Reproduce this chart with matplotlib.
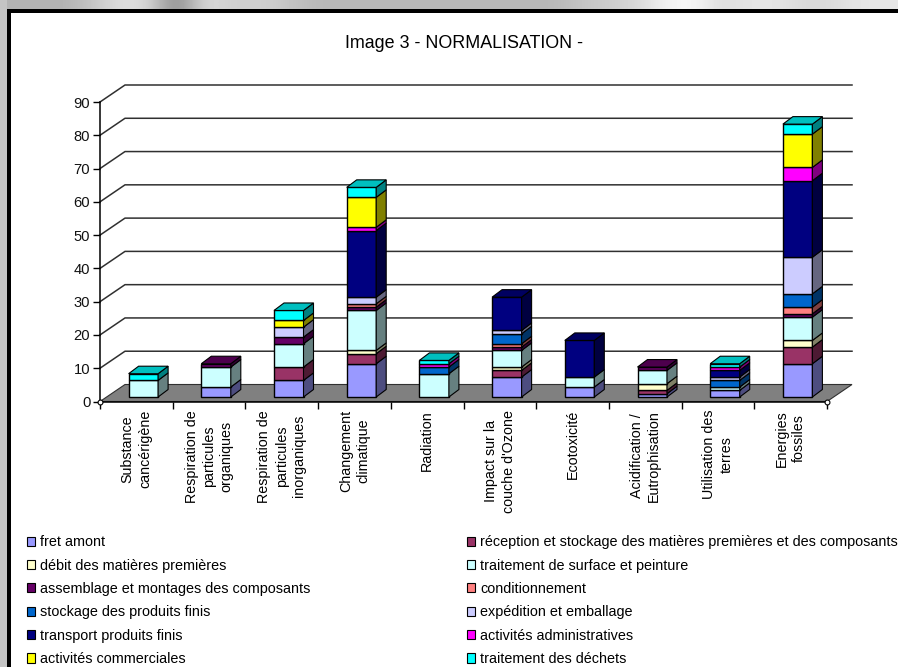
import numpy as np
import matplotlib
matplotlib.use('Agg')
import matplotlib.pyplot as plt
from matplotlib.patches import Polygon, Patch, Rectangle
from matplotlib.colors import to_rgb

plt.rcParams['font.family'] = ['Liberation Sans', 'DejaVu Sans']

categories = ['Substance\ncancérigène', 'Respiration de\nparticules\norganiques',
              'Respiration de\nparticules\ninorganiques', 'Changement\nclimatique', 'Radiation',
              "Impact sur la\ncouche d'Ozone", 'Ecotoxicité', 'Acidification /\nEutrophisation',
              'Utilisation des\nterres', 'Energies\nfossiles']

series_names = ['fret amont', 'réception et stockage des matières premières et des composants',
                'débit des matières premières', 'traitement de surface et peinture',
                'assemblage et montages des composants', 'conditionnement',
                'stockage des produits finis', 'expédition et emballage',
                'transport produits finis', 'activités administratives',
                'activités commerciales', 'traitement des déchets']

colors = ['#9999FF', '#993366', '#FFFFCC', '#CCFFFF', '#660066', '#FF8080',
          '#0066CC', '#CCCCFF', '#000080', '#FF00FF', '#FFFF00', '#00FFFF']

fret = [0, 3, 5, 10, 0, 6, 3, 1, 2, 10]
reception = [0, 0, 4, 3, 0, 2, 0, 1, 0, 5]
debit = [0, 0, 0, 1, 0, 1, 0, 2, 0, 2]
surface = [5, 6, 7, 12, 7, 5, 3, 4, 1, 7]
assemblage = [0, 1, 2, 1, 0, 1, 0, 1, 0, 1]
conditionnement = [0, 0, 0, 1, 0, 1, 0, 0, 0, 2]
stockage = [0, 0, 0, 0, 2, 3, 0, 0, 2, 4]
expedition = [0, 0, 3, 2, 0, 1, 0, 0, 1, 11]
transport = [0, 0, 0, 20, 0, 10, 11, 0, 2, 23]
administratives = [0, 0, 0, 1, 1, 0, 0, 0, 1, 4]
commerciales = [0, 0, 2, 9, 0, 0, 0, 0, 0, 10]
dechets = [2, 0, 3, 3, 1, 0, 0, 0, 1, 3]

all_series = [fret, reception, debit, surface, assemblage, conditionnement,
              stockage, expedition, transport, administratives, commerciales, dechets]

# grey levels of the blurred picture behind the frame, left to right
top_band = [0.70, 0.70, 0.70, 0.78, 0.88, 0.85, 0.50, 0.88, 0.80, 0.82, 0.78,
            0.72, 0.72, 0.72, 0.72, 0.72, 0.72, 0.72, 0.72, 0.72, 0.72,
            0.78, 0.80, 0.85, 0.95, 0.98, 0.85, 0.90, 0.90, 0.85, 0.85, 0.90, 0.90]

W, H = 898, 667
fig = plt.figure(figsize=(W / 100, H / 100), dpi=100, facecolor='white')

# backdrop and black frame
bg = fig.add_axes([0, 0, 1, 1], zorder=0)
bg.imshow([top_band], extent=(0, W, 10, 0), cmap='gray', vmin=0, vmax=1, aspect='auto', interpolation='bicubic')
bg.axis('off')
bg.add_patch(Rectangle((0, 0), 7, H, fc='#c4c4c4', ec='none'))
bg.add_patch(Rectangle((7, 9), W, H, fc='white', ec='none'))
bg.add_patch(Rectangle((7, 9), 3.5, H, fc='black', ec='none'))
bg.add_patch(Rectangle((7, 9), W, 4, fc='black', ec='none'))
bg.set_xlim(0, W)
bg.set_ylim(H, 0)

ax = fig.add_axes([100 / W, 1 - 401.5 / H, 727 / W, 299.5 / H], zorder=1)
ax.patch.set_alpha(0)
ax.set_xlim(0, 10)
ax.set_ylim(0, 90)

# one pixel in data units
px = 10 / 727
py = 90 / 299.5

# floor and back wall
ax.add_patch(Polygon([(0, 0), (25 * px, 17 * py), (752 * px, 17 * py), (10, 0)], closed=True,
                     fc='#808080', ec='#303030', lw=0.8, clip_on=False, zorder=1))
for v in range(10, 100, 10):
    ax.plot([0, 25 * px, 752 * px], [v, v + 17 * py, v + 17 * py], color='#303030', lw=1.1,
            clip_on=False, zorder=1)

# 3d stacked bars
bar_w = 29.5 * px
dep_x = 10 * px
dep_y = 7.5 * py
base = 4.5 * py
shift = 7 * px
values = np.array(all_series, dtype=float)
for i in range(len(categories)):
    x0 = i + 0.5 + shift - bar_w / 2
    x1 = x0 + bar_w
    y = base
    last = None
    for s in range(len(all_series)):
        v = values[s, i]
        if v == 0:
            continue
        c = np.array(to_rgb(colors[s]))
        ax.add_patch(Polygon([(x0, y), (x1, y), (x1, y + v), (x0, y + v)], closed=True, fc=c, ec='black',
                             lw=1.0, clip_on=False, zorder=3))
        ax.add_patch(Polygon([(x1, y), (x1 + dep_x, y + dep_y), (x1 + dep_x, y + v + dep_y), (x1, y + v)],
                             closed=True, fc=c * 0.5, ec='black', lw=0.8, clip_on=False, zorder=3))
        y += v
        last = c
    ax.add_patch(Polygon([(x0, y), (x1, y), (x1 + dep_x, y + dep_y), (x0 + dep_x, y + dep_y)], closed=True,
                         fc=last * 0.75, ec='black', lw=0.8, clip_on=False, zorder=3))

# selection handles at the corners of the axis
ax.plot([0, 10], [0, 0], ls='none', marker='o', ms=3.5, mfc='white', mec='black', mew=0.8, clip_on=False, zorder=5)

for side in ['top', 'right']:
    ax.spines[side].set_visible(False)
ax.spines['left'].set_linewidth(1.1)
ax.spines['bottom'].set_linewidth(1.1)
ax.set_yticks(range(0, 100, 10))
ax.tick_params(axis='y', length=5, width=1, labelsize=10.6, pad=2, labelcolor='#111111')
ax.set_xticks(range(11))
ax.set_xticklabels([])
ax.tick_params(axis='x', which='major', length=5, width=1)
ax.set_xticks(np.arange(10) + 0.5, minor=True)
ax.set_xticklabels(categories, minor=True, rotation=90, ha='center', va='top', multialignment='center',
                   fontsize=10.3, linespacing=1.3)
ax.tick_params(axis='x', which='minor', length=0, pad=6)

fig.text(463.5 / W, 1 - 43.5 / H, 'Image 3 - NORMALISATION -', ha='center', va='center', fontsize=12.9,
         color='black', fontweight='normal')

# legend, two columns read row by row
handles = [Patch(fc=c, ec='black', lw=0.8) for c in colors]
for start, x_px in [(0, 23), (1, 463)]:
    fig.legend(handles[start::2], series_names[start::2], loc='upper left',
               bbox_to_anchor=(x_px / W, 1 - 531 / H), frameon=False, handlelength=0.55, handleheight=0.6,
               handletextpad=0.35, labelspacing=0.65, fontsize=10.35, borderpad=0, borderaxespad=0.3)

fig.savefig('out.png', dpi=100)
